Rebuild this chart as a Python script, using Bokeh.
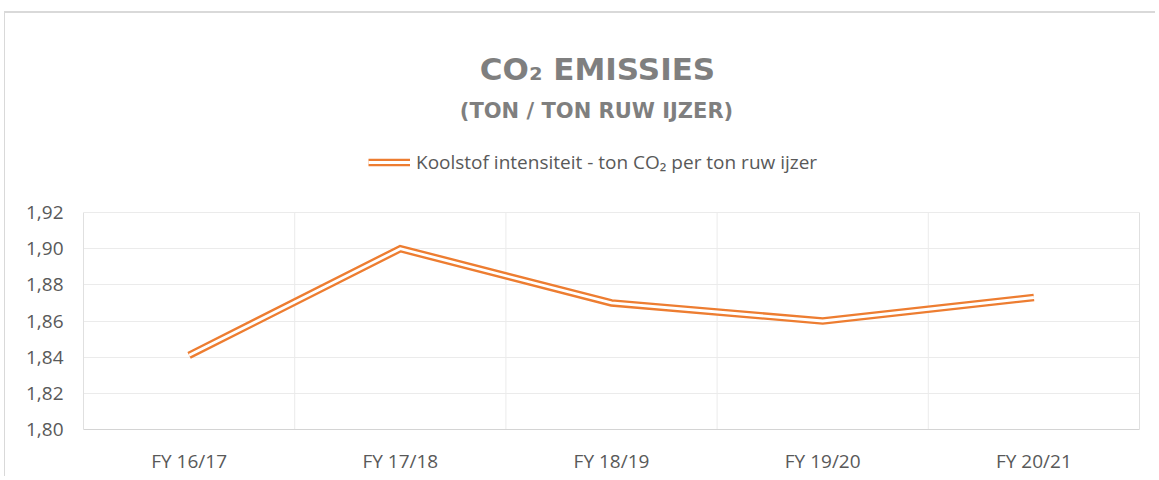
from bokeh.plotting import figure
from bokeh.models import (Label, Legend, LegendItem, FixedTicker, Range1d,
                          LinearAxis, InlineStyleSheet)
from bokeh.embed import file_html
from bokeh.resources import INLINE

# ---- data ----
categories = ["FY 16/17", "FY 17/18", "FY 18/19", "FY 19/20", "FY 20/21"]
values = [1.841, 1.900, 1.870, 1.860, 1.873]
y_ticks = [1.80, 1.82, 1.84, 1.86, 1.88, 1.90, 1.92]
y_tick_labels = ["1,80", "1,82", "1,84", "1,86", "1,88", "1,90", "1,92"]
title_text = "CO₂ EMISSIES"
subtitle_text = "(TON / TON RUW IJZER)"
series_name = "Koolstof intensiteit - ton CO₂ per ton ruw ijzer"

ORANGE = "#ED7D31"
GRID = "#ebebeb"
BOX = "#e0e0e0"
TXT = "#595959"
TITLE_C = "#7f7f7f"
FONT = "Open Sans"
TFONT = "DejaVu Sans"

n = len(categories)
xs = [i + 0.5 for i in range(n)]
bounds = list(range(1, n))

# plot area: 217 px for the value range, 212 px of headroom above it for titles
y0, y1 = y_ticks[0], y_ticks[-1]
y_top = y1 + (y1 - y0) * 212 / 217

p = figure(width=1155, height=476, output_backend="svg", toolbar_location=None,
           x_range=Range1d(0, n), y_range=Range1d(y0, y_top),
           min_border_left=83, min_border_right=16, min_border_top=0,
           min_border_bottom=47)
p.background_fill_color = "white"
p.border_fill_color = "white"
p.outline_line_color = None
p.stylesheets = [InlineStyleSheet(css=(
    ":host { position: relative; }"
    ":host::after { content: ''; position: absolute; left: 4px; top: 11px;"
    " right: 0; bottom: 0; border-top: 2px solid #d9d9d9;"
    " border-left: 1px solid #d9d9d9; pointer-events: none; z-index: 100; }"))]

# axes
p.xaxis.ticker = FixedTicker(ticks=xs)
p.xaxis.major_label_overrides = {x: c for x, c in zip(xs, categories)}
p.yaxis.ticker = FixedTicker(ticks=y_ticks)
p.yaxis.major_label_overrides = {t: l for t, l in zip(y_ticks, y_tick_labels)}
p.yaxis.bounds = (y0, y1)
for ax in (p.xaxis[0], p.yaxis[0]):
    ax.major_tick_line_color = None
    ax.minor_tick_line_color = None
    ax.major_label_text_font = FONT
    ax.major_label_text_font_size = "19px"
    ax.major_label_text_color = TXT
p.xaxis.axis_line_color = "#d4d4d4"
p.yaxis.axis_line_color = BOX
p.xaxis.major_label_standoff = 12
p.yaxis.major_label_standoff = 14

right_axis = LinearAxis(ticker=FixedTicker(ticks=[]), bounds=(y0, y1),
                        axis_line_color=BOX, major_tick_line_color=None,
                        minor_tick_line_color=None)
p.add_layout(right_axis, "right")

# grids
p.ygrid.ticker = FixedTicker(ticks=y_ticks)
p.ygrid.grid_line_color = GRID
p.xgrid.visible = False
p.segment(x0=bounds, y0=[y0] * len(bounds), x1=bounds, y1=[y1] * len(bounds),
          line_color=GRID, line_width=1)

# double line
r_out = p.line(xs, values, line_color=ORANGE, line_width=7.5, line_join="miter")
r_in = p.line(xs, values, line_color="white", line_width=2.8, line_join="miter")

# legend
legend = Legend(items=[LegendItem(label=series_name, renderers=[r_out, r_in])],
                location=(285, 254), orientation="horizontal",
                glyph_width=42, glyph_height=16, label_standoff=6,
                padding=0, margin=0, spacing=0,
                border_line_alpha=0, background_fill_alpha=0,
                label_text_font=FONT, label_text_font_size="19px",
                label_text_color=TXT)
p.add_layout(legend, "center")

# titles
p.add_layout(Label(x=514, y=361, x_units="screen", y_units="screen",
                   text=title_text, text_align="center",
                   text_baseline="alphabetic", text_font=TFONT,
                   text_font_size="31px", text_font_style="bold",
                   text_color=TITLE_C))
p.add_layout(Label(x=513, y=319, x_units="screen", y_units="screen",
                   text=subtitle_text, text_align="center",
                   text_baseline="alphabetic", text_font=TFONT,
                   text_font_size="21px", text_font_style="bold",
                   text_color=TITLE_C))

open("out.html", "w").write(file_html(p, INLINE))
